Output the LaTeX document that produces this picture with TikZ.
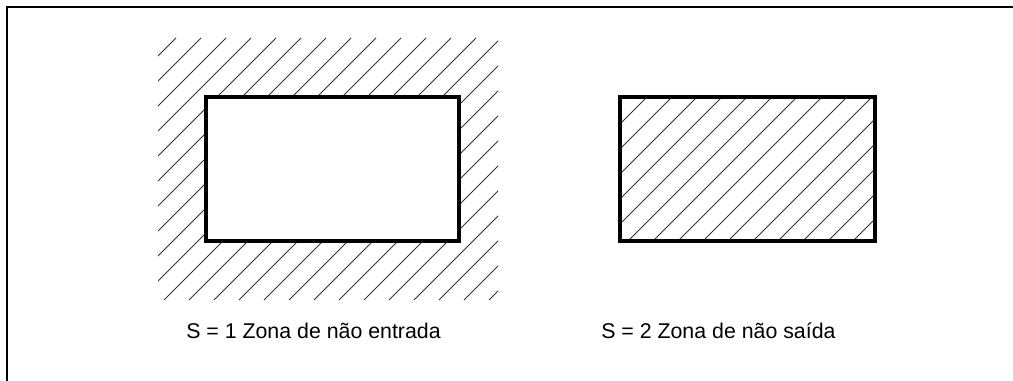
\documentclass[tikz,border=0pt]{standalone}
\usepackage{fontspec}
\setmainfont{Liberation Sans}
\begin{document}
\begin{tikzpicture}[x=0.75pt, y=-0.75pt,
    borda/.style={line width=3pt, line join=miter},
    hachura/.style={line width=0.6pt, color=black!80},
    legenda/.style={anchor=base west, inner sep=0pt, font=\fontsize{16}{19}\selectfont}]
    \useasboundingbox (0,0) rectangle (1013,381);

    % Moldura
    \draw[line width=1.5pt] (1013,7) -- (7,7) -- (7,381);

    % Zona de nao entrada (S = 1)
    \begin{scope}
        \clip (158,38) rectangle (498,300);
        \foreach \c in {189,214,...,814}
            \draw[hachura] (\c-300,300) -- (\c-38,38);
    \end{scope}
    \fill[white] (206,97.5) rectangle (459,241);
    \draw[borda] (206,97.5) rectangle (459,241);
    \node[legenda] (entrada) at (186,338) {S = 1 Zona de não entrada};

    % Zona de nao saida (S = 2)
    \begin{scope}
        \clip (620,97) rectangle (875,241);
        \foreach \c in {719,744,...,1119}
            \draw[hachura] (\c-241,241) -- (\c-97,97);
    \end{scope}
    \draw[borda] (620,97) rectangle (875,241);
    \node[legenda] (saida) at (601,338) {S = 2 Zona de não saída};

\end{tikzpicture}
\end{document}
